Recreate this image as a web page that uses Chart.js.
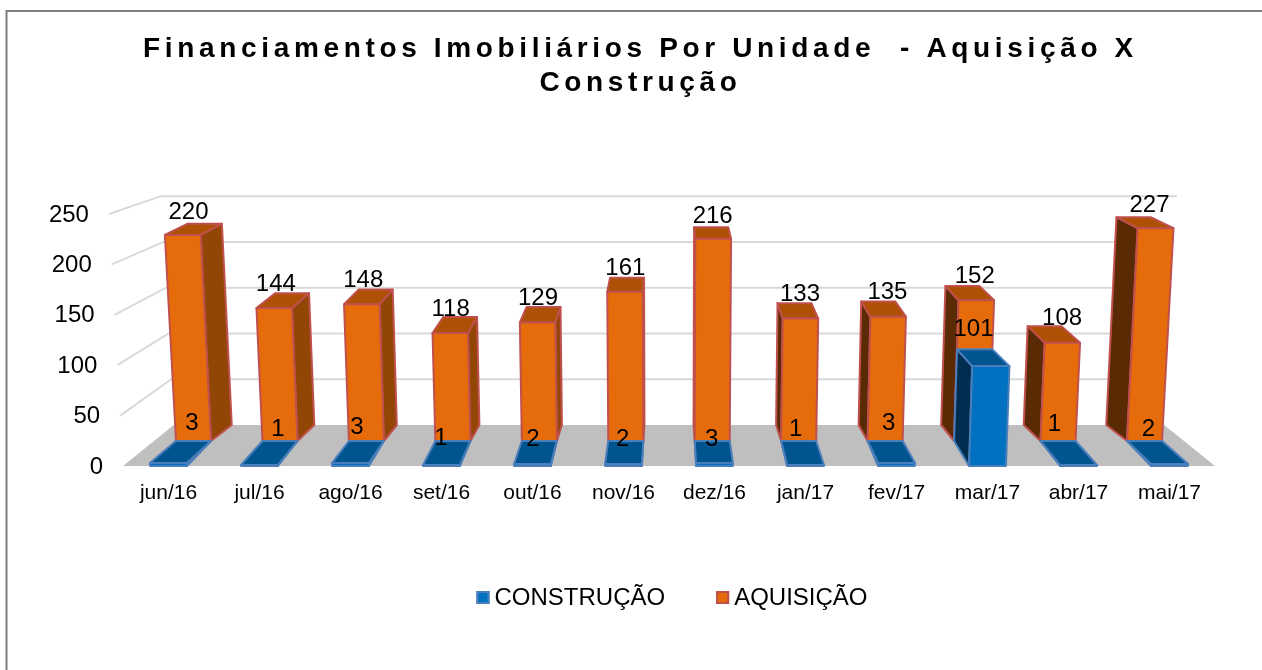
<!DOCTYPE html>
<html><head><meta charset="utf-8">
<style>html,body{margin:0;padding:0;background:#fff}canvas{display:block}</style>
<script src="https://cdn.jsdelivr.net/npm/chart.js@4"></script>
</head><body><canvas id="c" width="1262" height="670"></canvas>
<script>
const categories = ['jun/16','jul/16','ago/16','set/16','out/16','nov/16','dez/16','jan/17','fev/17','mar/17','abr/17','mai/17'];
const construcao = [3,1,3,1,2,2,3,1,3,101,1,2];
const aquisicao = [220,144,148,118,129,161,216,133,135,152,108,227];
const yTicks = [0,50,100,150,200,250];
const titleLines = ['Financiamentos Imobiliários Por Unidade  - Aquisição X','Construção'];

const VPX = 669, LEAN = 1.02e-4;
const WALL_FRONT = {sx:1, sy:1, base:466, off:0};
const PLANE_0 = {sx:1, sy:.981, base:466, off:0};
const PLANE_1 = {sx:.95, sy:.954, base:441, off:5.5};
const PLANE_2 = {sx:.907, sy:.908, base:425, off:0};
const LABEL_PLANE = {sx:.96, sy:.942, base:421};
// hand placed labels of the small series, relative to the column centre
const smallLabelDx = [23.5,18.5,6.4,-.6,.3,-.8,-2.8,-9.9,-7.9,-14,-24,-21];
const smallLabelY  = [423,429,427,438,439,439,439,429,423,329,424,429];

function proj(pl, px, py, y0){
  const h = y0 - py;
  const k = pl.sx * (1 + LEAN * h);
  return [VPX + (px - VPX) * k, Math.min(pl.base, pl.base + pl.off - h * pl.sy)];
}
function poly(ctx, pts, fill, stroke){
  ctx.beginPath();
  pts.forEach((p,i)=> i ? ctx.lineTo(p[0],p[1]) : ctx.moveTo(p[0],p[1]));
  ctx.closePath();
  if(fill){ctx.fillStyle=fill;ctx.fill();}
  if(stroke){ctx.strokeStyle=stroke;ctx.lineWidth=2;ctx.lineJoin='round';ctx.stroke();}
}
function cuboid(ctx, bar, y0, pa, pb, col){
  const l = bar.x - bar.width/2, r = bar.x + bar.width/2, t = bar.y;
  const A = (px,py)=>proj(pa,px,py,y0), B = (px,py)=>proj(pb,px,py,y0);
  const fl=A(l,y0), fr=A(r,y0), bl=B(l,y0), br=B(r,y0);
  if(bl[0] < fl[0]) poly(ctx,[fl,bl,B(l,t),A(l,t)],col.left,col.edge);
  if(br[0] > fr[0]) poly(ctx,[fr,br,B(r,t),A(r,t)],col.right,col.edge);
  poly(ctx,[A(l,t),A(r,t),B(r,t),B(l,t)],col.top,col.edge);
  poly(ctx,[fl,fr,A(r,t),A(l,t)],col.front,col.edge);
}
const ORANGE = {front:'#E66C0B',top:'#AE5104',right:'#914605',left:'#5A2A04',edge:'#C0504D'};
const BLUE = {front:'#0070C0',top:'#00558F',right:'#004A7C',left:'#002D50',edge:'#4A7EBB'};

const scene = {
  id:'scene',
  beforeDraw(chart){
    const ctx = chart.ctx;
    ctx.save();
    ctx.fillStyle='#fff';ctx.fillRect(0,0,1262,670);
    ctx.strokeStyle='#7F7F7F';ctx.lineWidth=2;
    ctx.beginPath();ctx.moveTo(6.5,670);ctx.lineTo(6.5,11);ctx.lineTo(1262,11);ctx.stroke();
    ctx.restore();
    const tb = chart.titleBlock;
    if(tb && !tb._wrapped){
      tb._wrapped = true;
      const d = tb.draw.bind(tb);
      tb.draw = function(){
        ctx.save();ctx.translate(33,0);ctx.letterSpacing='4.65px';
        d();
        ctx.letterSpacing='0px';ctx.restore();
      };
    }
    const lg = chart.legend;
    if(lg && !lg._wrapped){
      lg._wrapped = true;
      const d = lg.draw.bind(lg);
      lg.draw = function(){
        ctx.save();ctx.translate(67,0);d();ctx.restore();
        lg.legendHitBoxes.forEach((hb,i)=>{
          const c = i===0?BLUE:ORANGE, x = hb.left+67+13-18, y = 591;
          ctx.fillStyle=c.front;ctx.strokeStyle=c.edge;ctx.lineWidth=2;
          ctx.fillRect(x,y,13,13);ctx.strokeRect(x+1,y+1,11,11);
        });
      };
    }
    const ys = chart.scales.y, y0 = ys.getPixelForValue(0);
    ys.getLabelItems(chart.chartArea).forEach((it,i)=>{
      const v = ys.ticks[i].value;
      const p = proj(WALL_FRONT, ys.left+ys.width, ys.getPixelForValue(v), y0);
      it.options.translation[0] = p[0]-20;
    });
  },
  beforeDatasetsDraw(chart){
    const ctx = chart.ctx, xs = chart.scales.x, ys = chart.scales.y;
    const y0 = ys.getPixelForValue(0), L = chart.chartArea.left, R = chart.chartArea.right;
    ctx.save();
    poly(ctx,[proj(WALL_FRONT,L,y0,y0),proj(WALL_FRONT,R,y0,y0),proj(PLANE_2,R,y0,y0),proj(PLANE_2,L,y0,y0)],'#BFBFBF');
    ctx.strokeStyle='#D9D9D9';ctx.lineWidth=2;
    ys.ticks.forEach(t=>{
      if(t.value===0) return;
      const py = ys.getPixelForValue(t.value);
      const a=proj(WALL_FRONT,L,py,y0), b=proj(PLANE_2,L,py,y0), c=proj(PLANE_2,R,py,y0);
      ctx.beginPath();ctx.moveTo(a[0],a[1]);ctx.lineTo(b[0],b[1]);ctx.lineTo(c[0],c[1]);ctx.stroke();
    });
    const m0 = chart.getDatasetMeta(0).data, m1 = chart.getDatasetMeta(1).data;
    categories.forEach((c,i)=>{
      cuboid(ctx,m1[i],y0,PLANE_1,PLANE_2,ORANGE);
      cuboid(ctx,m0[i],y0,PLANE_0,PLANE_1,BLUE);
    });
    ctx.fillStyle='#000';ctx.font='24px "Liberation Sans"';ctx.textAlign='center';ctx.textBaseline='middle';
    categories.forEach((c,i)=>{
      const h = y0-ys.getPixelForValue(aquisicao[i]);
      const x = VPX+(m1[i].x-VPX)*LABEL_PLANE.sx;
      ctx.fillText(String(aquisicao[i]), x, LABEL_PLANE.base-h*LABEL_PLANE.sy);
      ctx.fillText(String(construcao[i]), m0[i].x+smallLabelDx[i], smallLabelY[i]);
    });
    ctx.restore();
    return false;
  }
};

new Chart(document.getElementById('c'),{
  type:'bar',
  data:{labels:categories,datasets:[
    {label:'CONSTRUÇÃO',data:construcao,backgroundColor:BLUE.front,borderColor:BLUE.edge,borderWidth:2,grouped:false,categoryPercentage:1,barPercentage:.405},
    {label:'AQUISIÇÃO',data:aquisicao,backgroundColor:ORANGE.front,borderColor:ORANGE.edge,borderWidth:2,grouped:false,categoryPercentage:1,barPercentage:.405}
  ]},
  options:{
    responsive:false,animation:false,
    layout:{padding:{left:0,right:47,top:0,bottom:50}},
    plugins:{
      title:{display:true,text:titleLines,color:'#000',font:{family:'"Liberation Sans"',size:28,weight:'bold',lineHeight:1.232},padding:{top:32,bottom:114}},
      legend:{position:'bottom',labels:{color:'#000',font:{family:'"Liberation Sans"',size:24},boxWidth:1,boxHeight:1,padding:56}},
      tooltip:{enabled:false}
    },
    scales:{
      x:{grid:{display:false},border:{display:false},
        ticks:{color:'#000',font:{family:'"Liberation Sans"',size:21},maxRotation:0,autoSkip:false,padding:6},
        afterFit(s){s.height=63;}},
      y:{min:0,max:250,afterBuildTicks(s){s.ticks=yTicks.map(v=>({value:v}));},
        grid:{display:false},border:{display:false},
        ticks:{color:'#000',font:{family:'"Liberation Sans"',size:24},padding:20},
        afterFit(s){s.width=123;}}
    }
  },
  plugins:[scene]
});
</script></body></html>
